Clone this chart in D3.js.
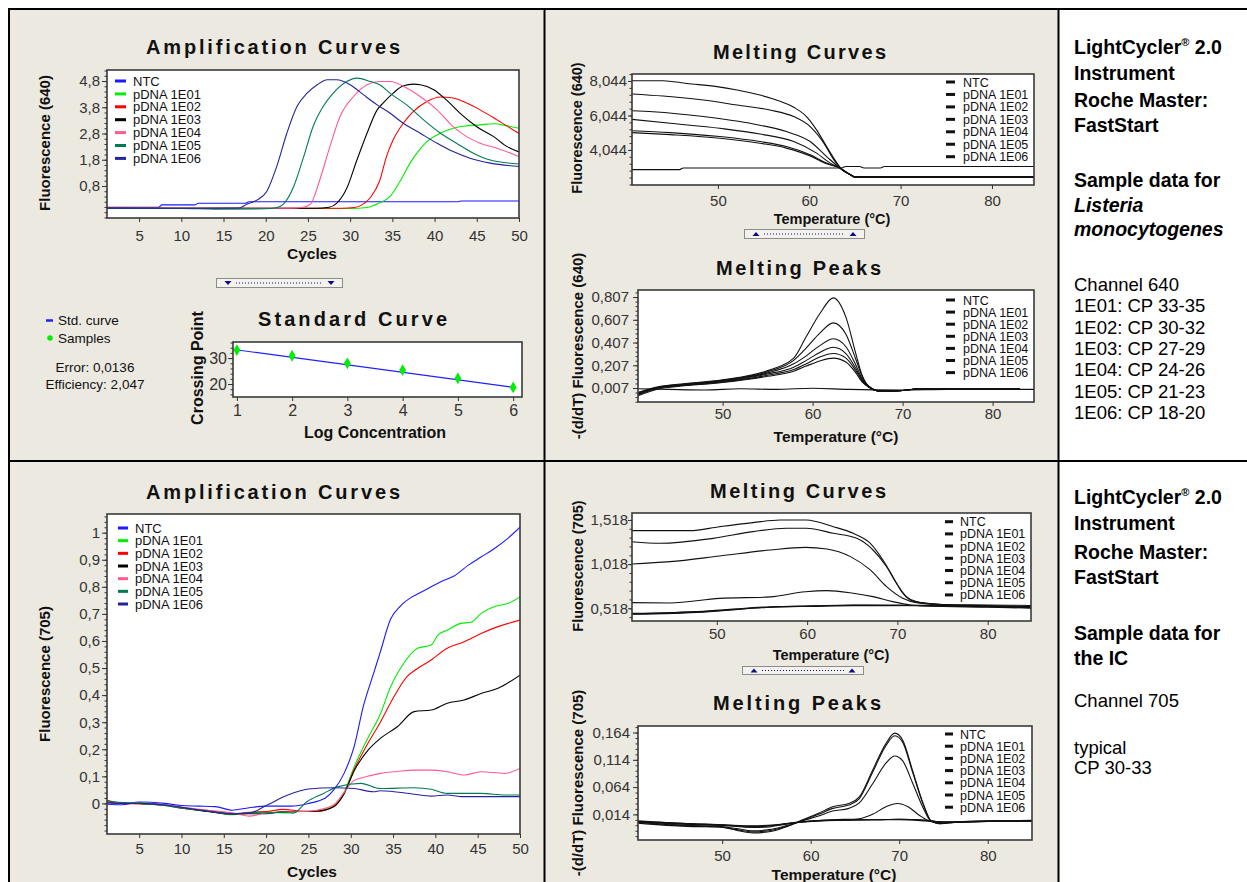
<!DOCTYPE html>
<html>
<head>
<meta charset="utf-8">
<script src="https://cdn.jsdelivr.net/npm/d3@7"></script>
<style>
body { margin: 0; background: #fff; }
svg { display: block; font-family: "Liberation Sans", Arial, sans-serif; }
</style>
</head>
<body>
<div id="container"></div>
<script>
// ---------- data ----------
let seriesNames = ["NTC", "pDNA 1E01", "pDNA 1E02", "pDNA 1E03", "pDNA 1E04", "pDNA 1E05", "pDNA 1E06"];
let seriesColors = ["#1a1aff", "#00ee00", "#ff0000", "#000000", "#ff5c8d", "#007a55", "#25239a"];
let blackColors = ["#111", "#111", "#111", "#111", "#111", "#111", "#111"];

// amplification, channel 640: [cycle, fluorescence]
let amp640 = [
  [[1.2,-0.01],[7.3,-0.01],[7.7,0.08],[11.6,0.08],[12,0.14],[17.6,0.14],[18,0.2],[42.8,0.2],[43.2,0.23],[50,0.23]],
  [[1.2,-0.05],[10,-0.05],[20,-0.06],[30,-0.06],[32,-0.02],[33.5,0.16],[34.7,0.39],[35.9,0.97],[37.1,1.67],[37.9,2.05],[39.1,2.49],[40.7,2.81],[42.2,3.0],[43.8,3.09],[45.4,3.13],[47,3.17],[48.6,3.09],[50,3.0]],
  [[1.2,-0.04],[10,-0.05],[20,-0.05],[29,-0.05],[30.5,-0.02],[31.4,0.08],[32.4,0.36],[33.5,1.0],[34.3,1.92],[35.1,2.56],[36.3,3.19],[37.5,3.64],[39.1,4.02],[40.7,4.19],[42.2,4.15],[43.8,3.96],[45.4,3.7],[47.4,3.32],[50,2.8]],
  [[1.2,-0.04],[10,-0.05],[20,-0.05],[26,-0.05],[27.5,-0.01],[28.4,0.14],[29.6,0.71],[30.8,1.79],[32,2.81],[33.2,3.7],[33.9,3.96],[35.1,4.34],[36.3,4.62],[37.5,4.68],[38.3,4.66],[39.9,4.47],[41.4,4.08],[43,3.58],[45,3.06],[47,2.68],[48.6,2.3],[50,2.1]],
  [[1.2,-0.05],[10,-0.05],[20,-0.05],[23,-0.05],[24.4,-0.01],[25.3,0.11],[26.4,1.03],[27.6,2.3],[28.8,3.45],[30.4,4.21],[32,4.66],[33.5,4.78],[34.7,4.78],[36.7,4.53],[38.3,4.21],[40.3,3.7],[42.2,3.06],[43.8,2.68],[45.4,2.43],[47.4,2.24],[50,1.92]],
  [[1.2,-0.06],[10,-0.06],[14,-0.08],[20,-0.07],[21.2,-0.03],[22.1,0.11],[23.3,0.77],[24.5,1.92],[25.6,3.06],[26.8,3.83],[28,4.34],[29.6,4.78],[30.8,4.91],[32.4,4.78],[33.5,4.66],[34.7,4.34],[36.7,3.89],[38.7,3.32],[40.7,2.81],[42.6,2.43],[44.6,2.05],[46.6,1.79],[50,1.64]],
  [[1.2,-0.05],[10,-0.05],[16.8,-0.04],[17.8,0.11],[19,0.27],[20.1,0.58],[21.3,1.54],[22.5,2.81],[23.7,3.83],[24.9,4.34],[26.1,4.66],[27.3,4.85],[28.4,4.85],[30,4.66],[31.6,4.27],[33.2,3.89],[34.7,3.58],[36.3,3.19],[38.3,2.81],[40.3,2.43],[42.2,2.11],[44.2,1.86],[46.6,1.67],[50,1.54]]
];
let amp640YTicks = [0.8, 1.8, 2.8, 3.8, 4.8];
let cycleTicks = [5, 10, 15, 20, 25, 30, 35, 40, 45, 50];

// standard curve
let stdConc = [1, 2, 3, 4, 5, 6];
let stdCP = [33.1, 30.9, 28.0, 25.4, 22.2, 18.7];
let stdFit = [[0.95, 33.3], [6, 18.7]];
let stdYTicks = [20, 30];
let stdError = "Error: 0,0136";
let stdEfficiency = "Efficiency: 2,047";

// melting curves, channel 640: [temperature, fluorescence]
let melt640 = [
  [[40.6,2.9],[45.8,2.9],[46.2,3.0],[63.5,3.0],[64,3.08],[65.5,3.08],[66,3.0],[67.8,3.0],[68.2,3.08],[84.6,3.08]],
  [[40.6,8.06],[44,8.06],[46.6,7.9],[49.9,7.72],[52.1,7.52],[54.6,7.23],[56.4,6.94],[58.3,6.52],[59.7,5.98],[60.8,5.21],[61.9,4.24],[62.8,3.47],[63.6,2.89],[64.5,2.62],[65,2.48],[70,2.48],[84.6,2.48]],
  [[40.6,7.29],[44,7.17],[48.4,6.94],[52.1,6.65],[55.7,6.36],[58.3,5.98],[60.1,5.4],[61.6,4.44],[62.7,3.47],[63.6,2.89],[64.5,2.62],[65,2.48],[84.6,2.48]],
  [[40.6,6.32],[42.9,6.26],[48.4,5.98],[53.9,5.55],[57.5,5.11],[60.1,4.53],[61.9,3.66],[63.4,2.98],[64.5,2.6],[65,2.48],[84.6,2.48]],
  [[40.6,5.82],[44.8,5.59],[50.2,5.3],[54.6,4.97],[58.3,4.53],[60.8,3.86],[62.3,3.28],[63.4,2.98],[64.5,2.6],[65,2.48],[84.6,2.48]],
  [[40.6,5.16],[44.8,5.05],[50.2,4.82],[54.6,4.53],[57.5,4.24],[60.1,3.76],[61.9,3.28],[63.4,2.98],[64.5,2.6],[65,2.48],[84.6,2.48]],
  [[40.6,5.05],[44.8,4.93],[50.2,4.72],[54.6,4.43],[57.5,4.15],[60.1,3.7],[61.9,3.24],[63.4,2.98],[64.5,2.6],[65,2.45],[84.6,2.45]]
];
let melt640YTicks = [4.044, 6.044, 8.044];

// melting peaks, channel 640
let peak640 = [
  [[40.6,0.0],[44,-0.005],[48,-0.01],[52,0.0],[56,-0.005],[60,0.005],[64,-0.005],[70,-0.01],[75,-0.005],[84.6,-0.005]],
  [[40.6,-0.03],[43,0.02],[45,0.04],[50,0.08],[55,0.16],[57.9,0.27],[59.3,0.46],[60.8,0.66],[62.3,0.8],[63.7,0.63],[64.8,0.31],[65.5,0.12],[66.2,0.025],[67.5,-0.02],[69,-0.02],[72,0.0],[83,0.0]],
  [[40.6,-0.04],[43,0.015],[45,0.035],[50,0.075],[55,0.15],[57.9,0.25],[59.3,0.36],[60.8,0.49],[62.3,0.58],[63.7,0.48],[64.8,0.26],[65.5,0.11],[66.2,0.025],[67.5,-0.02],[69,-0.02],[72,0.0],[83,0.0]],
  [[40.6,-0.04],[43,0.015],[45,0.03],[50,0.07],[55,0.14],[57.9,0.22],[59.3,0.29],[60.8,0.38],[62.3,0.44],[63.7,0.37],[64.8,0.21],[65.5,0.09],[66.2,0.02],[67.5,-0.02],[69,-0.02],[72,0.0],[83,0.0]],
  [[40.6,-0.05],[43,0.01],[45,0.03],[50,0.065],[55,0.13],[57.9,0.19],[59.3,0.25],[60.8,0.32],[62.3,0.365],[63.7,0.31],[64.8,0.18],[65.5,0.08],[66.2,0.02],[67.5,-0.02],[69,-0.02],[72,0.0],[83,0.0]],
  [[40.6,-0.05],[43,0.01],[45,0.025],[50,0.06],[55,0.12],[57.9,0.17],[59.3,0.22],[60.8,0.28],[62.3,0.31],[63.7,0.27],[64.8,0.16],[65.5,0.07],[66.2,0.02],[67.5,-0.02],[69,-0.02],[72,0.0],[83,0.0]],
  [[40.6,-0.06],[43,0.0],[45,0.02],[50,0.055],[55,0.11],[57.9,0.155],[59.3,0.2],[60.8,0.245],[62.3,0.27],[63.7,0.235],[64.8,0.14],[65.5,0.06],[66.2,0.015],[67.5,-0.02],[69,-0.02],[72,0.0],[83,0.0]]
];
let peak640YTicks = [0.007, 0.207, 0.407, 0.607, 0.807];
let tempTicks = [50, 60, 70, 80];

// amplification, channel 705
let amp705 = [
  [[1.2,-0.003],[3,-0.005],[5,0.005],[8,0.0],[10,-0.008],[12,-0.01],[14,-0.012],[16,-0.025],[18,-0.016],[20,-0.01],[23,-0.01],[25,0.0],[27,0.02],[28,0.05],[29.2,0.11],[30.4,0.21],[31.5,0.36],[32.7,0.48],[33.5,0.56],[34.7,0.68],[35.9,0.73],[37.1,0.76],[38.3,0.78],[39.5,0.8],[40.7,0.82],[42.2,0.84],[43.9,0.88],[45.4,0.91],[46.9,0.94],[48.6,0.98],[50,1.02]],
  [[1.2,0.01],[3,0.0],[5,0.003],[8,-0.008],[10,-0.015],[13,-0.027],[16,-0.042],[18,-0.035],[20,-0.03],[22,-0.035],[24,-0.03],[26,-0.028],[28,-0.008],[29.2,0.04],[30.4,0.135],[32,0.24],[33.5,0.33],[34.7,0.43],[35.9,0.5],[37.9,0.573],[39.5,0.585],[40.3,0.622],[41.4,0.64],[43,0.665],[44.2,0.669],[45.4,0.702],[47,0.727],[48.6,0.739],[50,0.763]],
  [[1.2,0.012],[3,0.0],[5,-0.002],[8,-0.006],[10,-0.018],[13,-0.025],[16,-0.038],[18,-0.033],[20,-0.03],[22,-0.022],[24,-0.028],[26,-0.03],[28,-0.01],[29.2,0.035],[30.4,0.125],[32,0.22],[33.5,0.3],[35.1,0.394],[36.7,0.47],[37.5,0.49],[39.5,0.53],[41.4,0.573],[43.4,0.597],[45.4,0.628],[47.4,0.653],[50,0.677]],
  [[1.2,0.005],[3,0.0],[5,0.0],[8,-0.005],[10,-0.015],[13,-0.03],[16,-0.04],[18,-0.038],[20,-0.038],[22,-0.03],[24,-0.03],[26,-0.028],[28,-0.012],[29.2,0.035],[30.4,0.12],[32,0.195],[33.5,0.24],[35.5,0.283],[37.5,0.339],[39.5,0.345],[41.4,0.37],[43.4,0.382],[45.4,0.406],[47.4,0.425],[50,0.474]],
  [[1.2,0.008],[3,0.002],[5,0.0],[8,-0.005],[10,-0.013],[13,-0.025],[16,-0.035],[18,-0.047],[20,-0.035],[22,-0.032],[24,-0.03],[26,-0.025],[28,-0.005],[29.2,0.04],[30.4,0.085],[32,0.1],[33.5,0.111],[35.5,0.118],[37.5,0.123],[39.5,0.123],[41.4,0.117],[43.4,0.105],[45.4,0.117],[48.2,0.111],[50,0.129]],
  [[1.2,0.01],[3,0.003],[5,0.0],[8,-0.008],[10,-0.018],[13,-0.028],[16,-0.04],[18,-0.035],[20,-0.035],[22,-0.033],[23.2,-0.036],[24.8,0.006],[26.8,0.037],[28.4,0.061],[31.2,0.074],[33.5,0.055],[37.5,0.058],[39.5,0.052],[41.4,0.037],[45.4,0.037],[48.2,0.031],[50,0.031]],
  [[1.2,0.002],[3,0.0],[5,0.0],[8,-0.006],[10,-0.014],[13,-0.028],[16,-0.038],[18,-0.036],[20,-0.008],[22.5,0.03],[25,0.053],[28,0.058],[30.4,0.055],[32.7,0.043],[33.5,0.047],[37.5,0.034],[39.5,0.027],[41.4,0.031],[43,0.025],[50,0.025]]
];
let amp705YTicks = [0, 0.1, 0.2, 0.3, 0.4, 0.5, 0.6, 0.7, 0.8, 0.9, 1];

// melting curves, channel 705
let melt705 = [
  [[40.6,0.45],[48.5,0.475],[55.9,0.53],[60.8,0.545],[65.1,0.555],[70,0.555],[75,0.55],[84.8,0.54]],
  [[40.6,1.397],[47,1.397],[50.3,1.442],[54,1.488],[57,1.518],[59.9,1.518],[62.9,1.442],[65.1,1.367],[67,1.254],[68.4,1.065],[69.5,0.876],[70.6,0.688],[71.4,0.612],[72.5,0.582],[75,0.56],[80,0.555],[84.8,0.55]],
  [[40.6,1.272],[43.7,1.254],[49.6,1.31],[54,1.386],[57.7,1.424],[59.9,1.424],[62.9,1.367],[65.5,1.31],[67.3,1.178],[68.8,0.989],[69.9,0.8],[71,0.65],[72.1,0.593],[75,0.56],[80,0.545],[84.8,0.535]],
  [[40.6,1.02],[44.8,1.046],[50.3,1.11],[55.9,1.178],[59.8,1.208],[62.2,1.19],[64.8,1.103],[67,0.952],[68.8,0.763],[70.6,0.631],[72.1,0.58],[75,0.555],[80,0.54],[84.8,0.525]],
  [[40.6,0.582],[44.8,0.578],[50.3,0.63],[55.9,0.647],[59.8,0.706],[62.2,0.718],[65.1,0.688],[67.3,0.65],[69.5,0.593],[71.4,0.556],[73.2,0.544],[80,0.53],[84.8,0.52]],
  [[40.6,0.46],[48.5,0.485],[55.9,0.536],[60.8,0.544],[65.1,0.552],[68.8,0.55],[73,0.545],[80,0.535],[84.8,0.53]],
  [[40.6,0.455],[48.5,0.48],[55.9,0.53],[60.8,0.54],[65.1,0.548],[68.8,0.548],[73,0.55],[80,0.54],[84.8,0.535]]
];
let melt705YTicks = [0.518, 1.018, 1.518];

// melting peaks, channel 705
let peak705 = [
  [[40.5,0.001],[46,-0.003],[50,-0.005],[53.5,-0.007],[56,-0.005],[59,0.0],[63,0.003],[67,0.004],[70,0.004],[73,0.002],[75,0.0],[80,0.002],[85,0.002]],
  [[40.5,-0.002],[46,-0.008],[49.7,-0.009],[51.6,-0.015],[53.5,-0.02],[55.3,-0.018],[57.2,-0.009],[59.1,0.004],[60.9,0.016],[62.5,0.028],[64.3,0.034],[65.5,0.046],[67,0.095],[68.5,0.144],[69.5,0.163],[70.4,0.15],[71.5,0.095],[72.7,0.034],[73.6,0.002],[74.5,-0.003],[77,0.0],[80,0.001],[85,0.002]],
  [[40.5,-0.001],[46,-0.007],[49.7,-0.009],[51.6,-0.014],[53.5,-0.018],[55.3,-0.016],[57.2,-0.008],[59.1,0.003],[60.9,0.014],[62.5,0.025],[64.3,0.031],[65.5,0.043],[67,0.091],[68.5,0.14],[69.5,0.158],[70.4,0.146],[71.5,0.092],[72.7,0.033],[73.6,0.002],[74.5,-0.003],[77,0.0],[80,0.001],[85,0.002]],
  [[40.5,0.0],[46,-0.006],[49.7,-0.008],[51.6,-0.012],[53.5,-0.016],[55.3,-0.014],[57.2,-0.007],[59.1,0.002],[60.9,0.011],[62.5,0.02],[64.3,0.025],[65.5,0.035],[67,0.07],[68.5,0.108],[69.5,0.121],[70.4,0.112],[71.5,0.072],[72.7,0.026],[73.6,0.001],[74.5,-0.002],[77,0.0],[80,0.001],[85,0.002]],
  [[40.5,0.001],[46,-0.004],[50,-0.006],[53.5,-0.01],[55.3,-0.009],[57.2,-0.004],[59.1,0.0],[62.5,0.004],[65.5,0.006],[67,0.014],[68.5,0.028],[69.8,0.034],[71,0.028],[72.3,0.012],[73.6,0.001],[75,-0.001],[80,0.001],[85,0.002]],
  [[40.5,0.002],[46,-0.003],[50,-0.005],[53.5,-0.008],[56,-0.006],[59,0.0],[63,0.004],[67,0.004],[70,0.005],[73,0.003],[75,0.0],[80,0.002],[85,0.003]],
  [[40.5,0.0],[46,-0.004],[50,-0.006],[53.5,-0.009],[56,-0.006],[59,0.001],[63,0.003],[67,0.004],[70,0.005],[73,0.003],[75,0.0],[80,0.001],[85,0.002]]
];
let peak705YTicks = [0.014, 0.064, 0.114, 0.164];

// side notes
let infoTop = ["LightCycler", "Instrument", "Roche Master:", "FastStart", "Sample data for", "Listeria", "monocytogenes",
  "Channel 640", "1E01: CP 33-35", "1E02: CP 30-32", "1E03: CP 27-29", "1E04: CP 24-26", "1E05: CP 21-23", "1E06: CP 18-20"];
let infoBottom = ["LightCycler", "Instrument", "Roche Master:", "FastStart", "Sample data for", "the IC", "Channel 705", "typical", "CP 30-33"];

// ---------- drawing ----------
let W = 1247, H = 882;
let beige = "#ece9e1";
let svg = d3.select("#container").append("svg").attr("width", W).attr("height", H);
let comma = d => String(d).replace(".", ",");
let clipCount = 0;

// cell backgrounds
svg.append("rect").attr("x", 10).attr("y", 10).attr("width", 534).attr("height", 450).attr("fill", beige);
svg.append("rect").attr("x", 545).attr("y", 10).attr("width", 513).attr("height", 450).attr("fill", beige);
svg.append("rect").attr("x", 10).attr("y", 462).attr("width", 534).attr("height", 420).attr("fill", beige);
svg.append("rect").attr("x", 545).attr("y", 462).attr("width", 513).attr("height", 420).attr("fill", beige);

function drawPlot(p) {
  let x = d3.scaleLinear().domain(p.xDomain).range([p.left, p.right]);
  let y = d3.scaleLinear().domain(p.yDomain).range([p.bottom, p.top]);
  let g = svg.append("g");
  g.append("rect").attr("x", p.left).attr("y", p.top)
    .attr("width", p.right - p.left).attr("height", p.bottom - p.top).attr("fill", "#fff");

  let clipId = "clip" + (clipCount++);
  svg.append("clipPath").attr("id", clipId).append("rect")
    .attr("x", p.left).attr("y", p.top).attr("width", p.right - p.left).attr("height", p.bottom - p.top);

  // legend
  if (p.legend) {
    let lg = g.append("g");
    seriesNames.forEach(function (name, i) {
      let ry = p.legend.y0 + i * p.legend.dy;
      lg.append("line").attr("x1", p.legend.x0).attr("x2", p.legend.x1).attr("y1", ry).attr("y2", ry)
        .attr("stroke", p.colors[i]).attr("stroke-width", 3);
      lg.append("text").attr("x", p.legend.tx).attr("y", ry).attr("dy", "0.36em")
        .attr("font-size", p.legend.fs).attr("fill", "#111").text(name);
    });
  }

  let line = d3.line().x(d => x(d[0])).y(d => y(d[1])).curve(d3.curveMonotoneX);
  g.append("g").attr("clip-path", `url(#${clipId})`)
    .selectAll("path").data(p.series).join("path")
    .attr("d", line).attr("fill", "none")
    .attr("stroke", (d, i) => p.colors[i]).attr("stroke-width", p.lw || 1.1);

  if (p.points) {
    g.append("path").attr("clip-path", `url(#${clipId})`)
      .attr("d", line.curve(d3.curveLinear)(p.fit)).attr("fill", "none").attr("stroke", "#2020ff").attr("stroke-width", 1.2);
    g.selectAll(".pt").data(p.points).join("path")
      .attr("transform", d => `translate(${x(d[0])},${y(d[1])})`)
      .attr("d", d3.symbol(d3.symbolDiamond, 40)).attr("fill", "#00ee00");
  }

  g.append("rect").attr("x", p.left).attr("y", p.top)
    .attr("width", p.right - p.left).attr("height", p.bottom - p.top)
    .attr("fill", "none").attr("stroke", "#3a3a3a").attr("stroke-width", 1.6);

  // y axis with minor ticks
  let minorY = d3.range(-60, 60).map(k => p.yTicks[0] + k * p.yMinor)
    .filter(v => v > p.yDomain[0] && v < p.yDomain[1]);
  g.append("g").attr("transform", `translate(${p.left},0)`)
    .call(d3.axisLeft(y).tickValues(minorY).tickFormat("").tickSize(2.5).tickSizeOuter(0))
    .call(a => a.select(".domain").remove());
  let ya = g.append("g").attr("transform", `translate(${p.left},0)`)
    .call(d3.axisLeft(y).tickValues(p.yTicks).tickFormat(comma).tickSize(p.ySize || 5).tickPadding(p.yPad).tickSizeOuter(0));
  ya.select(".domain").remove();

  let xa = g.append("g").attr("transform", `translate(0,${p.bottom})`)
    .call(d3.axisBottom(x).tickValues(p.xTicks).tickFormat(comma).tickSize(4).tickPadding(p.xPad).tickSizeOuter(0));
  xa.select(".domain").remove();

  g.selectAll(".tick line").attr("stroke", "#333");
  [ya, xa].forEach(a => a.attr("font-family", null).attr("font-size", null)
    .selectAll("text").attr("font-size", p.tickFs || 15).attr("fill", "#333"));

  // title
  g.append("text").attr("x", p.title.x).attr("y", p.title.y)
    .attr("font-size", 20).attr("font-weight", "bold").attr("fill", "#111")
    .attr("textLength", p.title.w).attr("lengthAdjust", "spacing")
    .text(p.title.text);

  // axis labels
  g.append("text").attr("x", p.xLabel.x).attr("y", p.xLabel.y).attr("text-anchor", "middle")
    .attr("font-size", p.labelFs || 15.5).attr("font-weight", "bold").attr("fill", "#111").text(p.xLabel.text);
  g.append("text").attr("transform", `translate(${p.yLabel.x},${p.yLabel.y}) rotate(-90)`).attr("text-anchor", "middle")
    .attr("font-size", p.labelFs || 15).attr("font-weight", "bold").attr("fill", "#111").text(p.yLabel.text);
}

function drawGrip(x0, x1, y0, y1, up) {
  let g = svg.append("g");
  g.append("rect").attr("x", x0 + 0.5).attr("y", y0 + 0.5).attr("width", x1 - x0).attr("height", y1 - y0)
    .attr("fill", "#f3f2ec").attr("stroke", "#8c8c8c");
  let cy = (y0 + y1) / 2 + 0.5;
  [x0 + 12, x1 - 11].forEach(function (cx) {
    let pts = up ? [[cx - 3.5, cy + 2], [cx + 3.5, cy + 2], [cx, cy - 2]]
                 : [[cx - 3.5, cy - 2], [cx + 3.5, cy - 2], [cx, cy + 2]];
    g.append("path").attr("d", d3.line()(pts) + "Z").attr("fill", "#0c0c84");
  });
  g.append("line").attr("x1", x0 + 20).attr("x2", x1 - 19).attr("y1", cy).attr("y2", cy)
    .attr("stroke", "#0c0c84").attr("stroke-dasharray", "1,2");
}

// --- top row: channel 640 ---
drawPlot({
  left: 107, right: 519, top: 70, bottom: 218,
  xDomain: [1.2, 50], yDomain: [-0.42, 5.22],
  xTicks: cycleTicks, yTicks: amp640YTicks, yMinor: 0.2, yPad: 2, xPad: 8,
  series: amp640, colors: seriesColors, lw: 1.1,
  legend: { x0: 115, x1: 126, tx: 133, y0: 81, dy: 12.9, fs: 13 },
  title: { text: "Amplification Curves", x: 146, y: 54, w: 254 },
  xLabel: { text: "Cycles", x: 312, y: 259 },
  yLabel: { text: "Fluorescence (640)", x: 50, y: 143 }
});
drawGrip(216, 342, 278, 287, false);

drawPlot({
  left: 233, right: 522, top: 342, bottom: 397,
  xDomain: [0.93, 6.16], yDomain: [15, 36.2],
  xTicks: stdConc, yTicks: stdYTicks, yMinor: 2, yPad: 1, xPad: 4, tickFs: 16,
  series: [], colors: [], points: stdConc.map((c, i) => [c, stdCP[i]]), fit: stdFit,
  title: { text: "Standard Curve", x: 258, y: 326, w: 189 },
  xLabel: { text: "Log Concentration", x: 375, y: 438 },
  yLabel: { text: "Crossing Point", x: 203, y: 368 },
  labelFs: 16
});

// standard curve legend
let sl = svg.append("g").attr("font-size", 13.5).attr("fill", "#111");
sl.append("line").attr("x1", 46).attr("x2", 53).attr("y1", 320.5).attr("y2", 320.5).attr("stroke", "#2020ff").attr("stroke-width", 2.5);
sl.append("text").attr("x", 58).attr("y", 325).text("Std. curve");
sl.append("path").attr("transform", "translate(50,338)").attr("d", d3.symbol(d3.symbolCircle, 24)).attr("fill", "#00ee00");
sl.append("text").attr("x", 58).attr("y", 342.5).text("Samples");
sl.append("text").attr("x", 95).attr("y", 371.5).attr("text-anchor", "middle").text(stdError);
sl.append("text").attr("x", 95).attr("y", 389).attr("text-anchor", "middle").text(stdEfficiency);

drawPlot({
  left: 632, right: 1034, top: 74, bottom: 185,
  xDomain: [40.6, 84.6], yDomain: [2.01, 8.45],
  xTicks: tempTicks, yTicks: melt640YTicks, yMinor: 0.4, ySize: 4, yPad: 1, xPad: 6,
  series: melt640, colors: blackColors, lw: 1.1,
  legend: { x0: 946, x1: 955, tx: 963, y0: 82, dy: 12.45, fs: 12.5 },
  title: { text: "Melting Curves", x: 713, y: 59, w: 173 },
  xLabel: { text: "Temperature (°C)", x: 832, y: 224 },
  yLabel: { text: "Fluorescence (640)", x: 582, y: 128 },
  labelFs: 14.5
});
drawGrip(744, 864, 229, 238, true);

drawPlot({
  left: 638, right: 1034, top: 290, bottom: 402,
  xDomain: [40.6, 84.6], yDomain: [-0.116, 0.869],
  xTicks: tempTicks, yTicks: peak640YTicks, yMinor: 0.04, yPad: 4, xPad: 2,
  series: peak640, colors: blackColors, lw: 1.1,
  legend: { x0: 946, x1: 955, tx: 963, y0: 300, dy: 12.1, fs: 12.5 },
  title: { text: "Melting Peaks", x: 716, y: 275, w: 165 },
  xLabel: { text: "Temperature (°C)", x: 836, y: 442 },
  yLabel: { text: "-(d/dT) Fluorescence (640)", x: 583, y: 346 }
});

// --- bottom row: channel 705 ---
drawPlot({
  left: 107, right: 520, top: 514, bottom: 834,
  xDomain: [1.2, 50], yDomain: [-0.113, 1.069],
  xTicks: cycleTicks, yTicks: amp705YTicks, yMinor: 0.02, yPad: 2, xPad: 5,
  series: amp705, colors: seriesColors, lw: 1.1,
  legend: { x0: 118, x1: 128, tx: 135, y0: 528, dy: 12.67, fs: 13 },
  title: { text: "Amplification Curves", x: 146, y: 499, w: 254 },
  xLabel: { text: "Cycles", x: 312, y: 877 },
  yLabel: { text: "Fluorescence (705)", x: 50, y: 674 }
});

drawPlot({
  left: 632, right: 1031, top: 513, bottom: 621,
  xDomain: [40.6, 84.8], yDomain: [0.374, 1.597],
  xTicks: tempTicks, yTicks: melt705YTicks, yMinor: 0.1, ySize: 4, yPad: 0, xPad: 3,
  series: melt705, colors: blackColors, lw: 1.1,
  legend: { x0: 945, x1: 953, tx: 960, y0: 521.7, dy: 12.2, fs: 12.5 },
  title: { text: "Melting Curves", x: 710, y: 498, w: 176 },
  xLabel: { text: "Temperature (°C)", x: 831, y: 660 },
  yLabel: { text: "Fluorescence (705)", x: 583, y: 566 },
  labelFs: 14.5
});
drawGrip(742, 863, 666, 674, true);

drawPlot({
  left: 638, right: 1032, top: 726, bottom: 840,
  xDomain: [40.5, 85], yDomain: [-0.033, 0.176],
  xTicks: tempTicks, yTicks: peak705YTicks, yMinor: 0.01, yPad: 3, xPad: 6,
  series: peak705, colors: blackColors, lw: 1.1,
  legend: { x0: 945, x1: 953, tx: 960, y0: 734, dy: 12.2, fs: 12.5 },
  title: { text: "Melting Peaks", x: 713, y: 710, w: 168 },
  xLabel: { text: "Temperature (°C)", x: 834, y: 880 },
  yLabel: { text: "-(d/dT) Fluorescence (705)", x: 583, y: 783 }
});

// --- side notes ---
function drawInfo(lines, baselines, styles) {
  let g = svg.append("g").attr("fill", "#000");
  lines.forEach(function (txt, i) {
    let st = styles[i];
    let t = g.append("text").attr("x", 1074).attr("y", baselines[i])
      .attr("font-size", st === "r" ? 18.5 : 19.5)
      .attr("font-weight", st === "r" ? "normal" : "bold")
      .attr("font-style", st === "bi" ? "italic" : "normal");
    if (i === 0) {
      t.append("tspan").text(txt);
      t.append("tspan").attr("font-size", 11).attr("dy", -8).text("®");
      t.append("tspan").attr("dy", 8).text(" 2.0");
    } else {
      t.text(txt);
    }
  });
}
drawInfo(infoTop, [54, 80, 107, 132, 187, 212, 236, 291, 312, 334, 355, 376, 398, 419],
  ["b", "b", "b", "b", "b", "bi", "bi", "r", "r", "r", "r", "r", "r", "r"]);
drawInfo(infoBottom, [504, 530, 559, 584, 640, 665, 707, 754, 774],
  ["b", "b", "b", "b", "b", "b", "r", "r", "r"]);

// --- table rules ---
let rules = svg.append("g").attr("stroke", "#000").attr("stroke-width", 2);
rules.append("line").attr("x1", 8).attr("x2", W).attr("y1", 9).attr("y2", 9);
rules.append("line").attr("x1", 8).attr("x2", W).attr("y1", 461).attr("y2", 461);
rules.append("line").attr("x1", 9).attr("x2", 9).attr("y1", 8).attr("y2", H);
rules.append("line").attr("x1", 544.5).attr("x2", 544.5).attr("y1", 8).attr("y2", H);
rules.append("line").attr("x1", 1058.5).attr("x2", 1058.5).attr("y1", 8).attr("y2", H);
</script>
</body>
</html>
